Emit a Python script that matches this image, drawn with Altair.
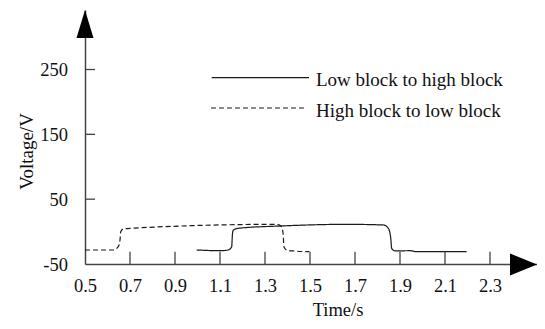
import altair as alt
import pandas as pd

series_names = ["Low block to high block", "High block to low block"]

low_t = [0.996, 1.10, 1.137, 1.152, 1.155, 1.159, 1.181, 1.367, 1.663, 1.826, 1.848, 1.859, 1.863, 1.878, 1.944, 1.974, 2.196]
low_v = [-28.4, -29.5, -28.4, -23.3, -5.3, 2.4, 5.1, 8.6, 11.2, 10.2, 5.1, -10.4, -25.8, -29.9, -29.5, -31.0, -31.0]

high_t = [0.5, 0.626, 0.648, 0.6556, 0.6587, 0.670, 0.70, 1.352, 1.374, 1.381, 1.384, 1.396, 1.426, 1.497]
high_v = [-28.4, -28.4, -23.3, -13.0, -0.2, 4.0, 5.1, 11.2, 7.5, -5.3, -23.3, -28.4, -29.9, -31.0]

x_ticks = [0.5, 0.7, 0.9, 1.1, 1.3, 1.5, 1.7, 1.9, 2.1, 2.3]
y_ticks = [-50, 50, 150, 250]

FONT = "Liberation Serif"
AXIS_COLOR = "#444444"
LINE_COLOR = "#1a1a1a"
W, H = 452, 254

xs = alt.Scale(domain=[0.5, 0.5 + W / 225.0], nice=False, zero=False)
ys = alt.Scale(domain=[-50, 341.8], nice=False, zero=False)

df = pd.DataFrame({
    "t": low_t + high_t,
    "v": low_v + high_v,
    "series": [series_names[0]] * len(low_t) + [series_names[1]] * len(high_t),
})

x_axis = alt.Axis(
    values=x_ticks, format=".1f", ticks=False, grid=False,
    domainColor=AXIS_COLOR, domainWidth=1.5,
    labelFont=FONT, labelFontSize=18.5, labelColor="#111111", labelPadding=12.2,
    labelFlush=False, labelOverlap=False,
    title="Time/s", titleFont=FONT, titleFontSize=18.5, titleFontWeight="normal",
    titleColor="#111111", titleX=252.5, titleY=51, titleAlign="center",
    titleBaseline="alphabetic",
)
y_axis = alt.Axis(
    values=y_ticks, labelExpr="'' + datum.value", ticks=False, grid=False,
    domainColor=AXIS_COLOR, domainWidth=1.5,
    labelFont=FONT, labelFontSize=18.5, labelColor="#111111", labelPadding=17.5,
    labelFlush=False, labelOverlap=False,
    title="Voltage/V", titleFont=FONT, titleFontSize=19, titleFontWeight="normal",
    titleColor="#111111", titleAngle=270, titleX=-52.5, titleY=141,
    titleAlign="center", titleBaseline="alphabetic",
)

lines = alt.Chart(df).mark_line(interpolate="monotone", color=LINE_COLOR, strokeWidth=1.2).encode(
    x=alt.X("t:Q", scale=xs, axis=x_axis),
    y=alt.Y("v:Q", scale=ys, axis=y_axis),
    strokeDash=alt.StrokeDash("series:N", scale=alt.Scale(domain=series_names, range=[[1, 0], [5, 3]]), legend=None),
    detail="series:N",
)

xt = alt.Chart(pd.DataFrame({"t": x_ticks[1:]})).mark_rule(color=AXIS_COLOR, strokeWidth=1.3).encode(
    x=alt.X("t:Q", scale=xs),
    y=alt.datum(-50),
    y2=alt.datum(-31),
)
yt = alt.Chart(pd.DataFrame({"v": y_ticks[1:]})).mark_rule(color=AXIS_COLOR, strokeWidth=1.3).encode(
    y=alt.Y("v:Q", scale=ys),
    x=alt.datum(0.5),
    x2=alt.datum(0.5444),
)

one = pd.DataFrame({"a": [0]})
arrow_x = alt.Chart(one).mark_point(
    shape="M-1,-0.815L1,0L-1,0.815Z", size=729, filled=True, color="black", opacity=1, strokeWidth=0
).encode(x=alt.value(W - 13.5), y=alt.value(254.5))
arrow_y = alt.Chart(one).mark_point(
    shape="M-0.607,1L0,-1L0.607,1Z", size=784, filled=True, color="black", opacity=1, strokeWidth=0
).encode(x=alt.value(0), y=alt.value(14))

leg1 = alt.Chart(one).mark_rule(color=LINE_COLOR, strokeWidth=1.2).encode(
    x=alt.value(126.7), x2=alt.value(224), y=alt.value(67.7))
leg2 = alt.Chart(one).mark_rule(color=LINE_COLOR, strokeWidth=1.2, strokeDash=[5, 3]).encode(
    x=alt.value(126), x2=alt.value(222), y=alt.value(98))
txt1 = alt.Chart(one).mark_text(align="left", baseline="alphabetic", font=FONT, fontSize=19, color="#111111").encode(
    x=alt.value(231), y=alt.value(75.7), text=alt.value(series_names[0]))
txt2 = alt.Chart(one).mark_text(align="left", baseline="alphabetic", font=FONT, fontSize=19, color="#111111").encode(
    x=alt.value(231), y=alt.value(106.7), text=alt.value(series_names[1]))

chart = alt.layer(lines, xt, yt, arrow_x, arrow_y, leg1, leg2, txt1, txt2).properties(
    width=W, height=H,
    autosize=alt.AutoSizeParams(type="none"),
    padding={"left": 77, "top": 2, "right": 0, "bottom": 55},
    background="white",
).configure_view(stroke=None)

chart.save("out.html", embed_options={"renderer": "svg", "actions": False})
